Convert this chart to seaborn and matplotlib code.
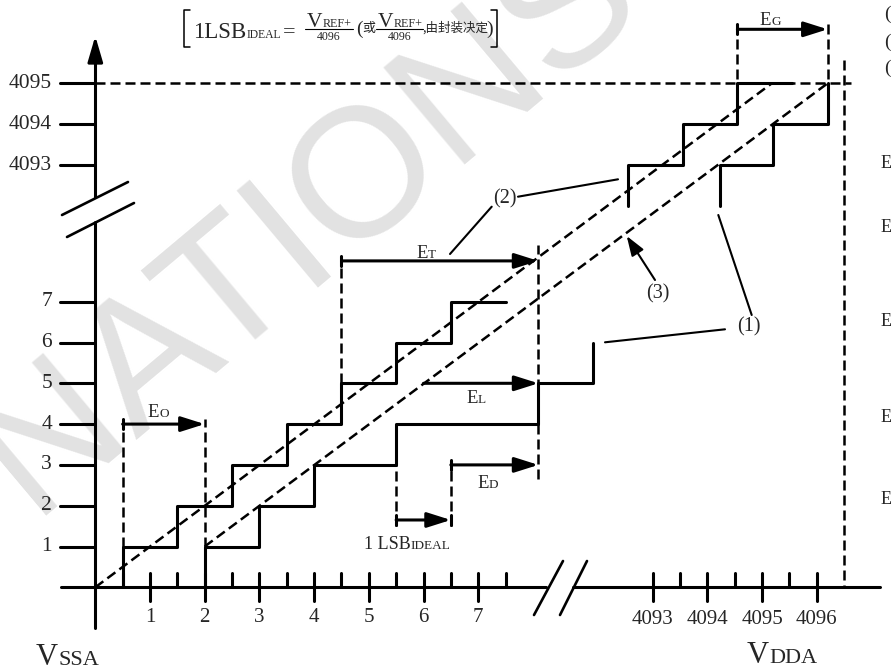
import matplotlib
matplotlib.use('Agg')
import matplotlib.pyplot as plt
import numpy as np
import pandas as pd
import seaborn as sns

# values (LSB units on x, output codes on y)
LO_IDEAL_EDGES = [0.5, 1.5, 2.5, 3.5, 4.5, 5.5, 6.5]
LO_IDEAL_CODES = [1, 2, 3, 4, 5, 6, 7]
LO_IDEAL_END = 7.5

LO_ACTUAL_EDGES = [2.0, 3.0, 4.0, 5.5, 8.1, 9.1]
LO_ACTUAL_CODES = [1, 2, 3, 4, 5, 6]

HI_IDEAL_EDGES = [4092.55, 4093.55, 4094.55]
HI_IDEAL_CODES = [4093, 4094, 4095]
HI_IDEAL_END = 4095.55

HI_ACTUAL_EDGES = [4094.23, 4095.2, 4096.2]
HI_ACTUAL_CODES = [4093, 4094, 4095]

LO_Y_TICKS = [1, 2, 3, 4, 5, 6, 7]
HI_Y_TICKS = [4093, 4094, 4095]
LO_X_TICKS = [1, 2, 3, 4, 5, 6, 7]
HI_X_TICKS = [4093, 4094, 4095, 4096]

# canvas placement of the two axis segments (pixels)
LO_X0, LO_DX = 95.3, 54.7
LO_Y0, LO_DY = 587.3, 40.8
HI_X0, HI_Y0, HI_DY = 762.0, 83.3, 41.0

LW = 2.2      # solid lines
DLW = 1.8     # dashed lines
THIN = 1.5
DASH = (0, (7.2, 3.6))
SERIF = ['Liberation Serif', 'Noto Sans CJK SC']
CJK = ['Noto Sans CJK SC', 'Liberation Serif']


def lx(u):
    return LO_X0 + LO_DX * np.asarray(u, dtype=float)


def ly(v):
    return LO_Y0 - LO_DY * np.asarray(v, dtype=float)


def hx(u):
    return HI_X0 + LO_DX * (np.asarray(u, dtype=float) - 4095)


def hy(v):
    return HI_Y0 + HI_DY * (4095 - np.asarray(v, dtype=float))


def staircase(ax, edges, codes, end, fx, fy):
    xs = [edges[0]] + list(edges)
    ys = [codes[0] - 1] + list(codes)
    if end is not None:
        xs.append(end)
        ys.append(codes[-1])
    df = pd.DataFrame({'x': fx(xs), 'y': fy(ys)})
    sns.lineplot(data=df, x='x', y='y', drawstyle='steps-post', estimator=None,
                 sort=False, color='black', linewidth=LW, ax=ax)


def dashed(ax, xs, ys, lw=DLW):
    ax.plot(xs, ys, color='black', lw=lw, linestyle=DASH, solid_capstyle='butt')


def arrow(ax, x0, x1, y, tail=True, head=False):
    ax.annotate('', xy=(x1, y), xytext=(x0, y),
                arrowprops=dict(arrowstyle='-|>,head_length=1.2,head_width=0.38',
                                color='black', lw=LW, shrinkA=0, shrinkB=0))
    if tail:
        ax.plot([x0, x0], [y - 5, y + 5], color='black', lw=LW)
    if head:
        ax.plot([x1, x1], [y - 5, y + 5], color='black', lw=LW)


def rich(ax, x, y, parts, ha='center'):
    r = ax.figure.canvas.get_renderer()
    arts = []
    for s, size in parts:
        t = ax.text(0, y, s, fontsize=size, family=SERIF, ha='left', va='baseline')
        arts.append((t, t.get_window_extent(r).width))
    total = sum(w for _, w in arts)
    cur = x - total / 2 if ha == 'center' else x
    for t, w in arts:
        t.set_x(cur)
        cur += w


sns.set_theme(style='white')
plt.rcParams['font.family'] = SERIF
plt.rcParams['lines.scale_dashes'] = False

fig = plt.figure(figsize=(8.93, 6.71), dpi=100)
ax = fig.add_axes([0, 0, 1, 1])
ax.set_xlim(0, 893)
ax.set_ylim(671, 0)
ax.axis('off')

# watermark
ax.text(308, 222, 'NATIONS', rotation=40, fontsize=132, color='#e2e2e2',
        family='Liberation Sans', ha='center', va='center', zorder=0,
        rotation_mode='anchor')

# y axis with break
ax.plot([LO_X0, LO_X0], [628, 222], color='black', lw=LW)
ax.plot([LO_X0, LO_X0], [197, 50], color='black', lw=LW)
ax.annotate('', xy=(LO_X0, 36), xytext=(LO_X0, 60),
            arrowprops=dict(arrowstyle='-|>,head_length=1.3,head_width=0.38',
                            color='black', lw=LW, shrinkA=0, shrinkB=0))
ax.plot([62, 128], [215, 182], color='black', lw=1.9)
ax.plot([67, 134], [237, 203], color='black', lw=1.9)

# x axis with break
ax.plot([61, 546], [LO_Y0, LO_Y0], color='black', lw=LW)
ax.plot([573, 880], [LO_Y0, LO_Y0], color='black', lw=LW)
ax.annotate('', xy=(898, LO_Y0), xytext=(870, LO_Y0),
            arrowprops=dict(arrowstyle='-|>,head_length=1.3,head_width=0.38',
                            color='black', lw=LW, shrinkA=0, shrinkB=0))
ax.plot([534, 563], [615, 561], color='black', lw=1.9)
ax.plot([560, 587], [615, 561], color='black', lw=1.9)

# y ticks and labels
for v in LO_Y_TICKS:
    ax.plot([60, LO_X0], [ly(v), ly(v)], color='black', lw=LW)
    ax.text(52, ly(v), str(v), fontsize=15.5, ha='right', va='center')
for v in HI_Y_TICKS:
    ax.plot([60, LO_X0], [hy(v), hy(v)], color='black', lw=LW)
    ax.text(52, hy(v), str(v), fontsize=15.5, ha='right', va='center')

# x ticks and labels
for u in LO_X_TICKS:
    ax.plot([lx(u), lx(u)], [573, 601], color='black', lw=LW)
    ax.text(lx(u), 617, str(u), fontsize=15, ha='center', va='center')
for u in np.array(LO_X_TICKS) - 0.5:
    ax.plot([lx(u), lx(u)], [573, LO_Y0], color='black', lw=LW)
ax.plot([lx(7.5), lx(7.5)], [573, LO_Y0], color='black', lw=LW)
for u in HI_X_TICKS:
    ax.plot([hx(u), hx(u)], [573, 601], color='black', lw=LW)
    ax.text(hx(u), 619, str(u), fontsize=15, ha='center', va='center')
for u in np.array(HI_X_TICKS[1:]) - 0.5:
    ax.plot([hx(u), hx(u)], [573, LO_Y0], color='black', lw=LW)

# staircases
staircase(ax, LO_IDEAL_EDGES, LO_IDEAL_CODES, LO_IDEAL_END, lx, ly)
staircase(ax, LO_ACTUAL_EDGES, LO_ACTUAL_CODES, None, lx, ly)
staircase(ax, HI_IDEAL_EDGES, HI_IDEAL_CODES, HI_IDEAL_END, hx, hy)
staircase(ax, HI_ACTUAL_EDGES, HI_ACTUAL_CODES, None, hx, hy)

# ideal line (2) and end point correlation line (3)
dashed(ax, [lx(0), hx(4095.18)], [ly(0), hy(4095)])
dashed(ax, [lx(LO_ACTUAL_EDGES[0]), hx(HI_ACTUAL_EDGES[-1])],
       [ly(LO_ACTUAL_CODES[0]), hy(HI_ACTUAL_CODES[-1])])

# guides
dashed(ax, [LO_X0, hx(4096.63)], [hy(4095), hy(4095)])
dashed(ax, [hx(4096.5), hx(4096.5)], [60, LO_Y0])
dashed(ax, [lx(0.5), lx(0.5)], [ly(1), ly(4.12)])
dashed(ax, [lx(2.0), lx(2.0)], [ly(1), ly(4.12)])
dashed(ax, [lx(4.5), lx(4.5)], [ly(5), ly(8.12)])
dashed(ax, [lx(8.1), lx(8.1)], [ly(2.65), ly(8.38)])
dashed(ax, [lx(5.5), lx(5.5)], [ly(1.5), ly(3)])
dashed(ax, [lx(6.5), lx(6.5)], [ly(1.5), ly(3.05)])
dashed(ax, [hx(4094.55), hx(4094.55)], [24, hy(4095)])
dashed(ax, [hx(4096.2), hx(4096.2)], [24, hy(4095)])

# error arrows
arrow(ax, lx(0.5), lx(2.0), ly(4))
arrow(ax, lx(4.5), lx(8.1), ly(8.0))
arrow(ax, lx(6.0), lx(8.1), ly(5), tail=False)
arrow(ax, lx(6.5), lx(8.1), ly(3))
arrow(ax, lx(5.5), lx(6.5), ly(1.65), head=True)
arrow(ax, hx(4094.55), hx(4096.2), 29.3)

rich(ax, 158, 417, [('E', 13.5), ('O', 9.5)])
rich(ax, 426, 258, [('E', 13.5), ('T', 9.5)])
rich(ax, 476, 403, [('E', 13.5), ('L', 9.5)])
rich(ax, 488, 488, [('E', 13.5), ('D', 9.5)])
rich(ax, 770, 25, [('E', 13.5), ('G', 9.5)])
rich(ax, 407, 549, [('1 LSB', 13), ('IDEAL', 9.5)])

# curve labels and leaders
for (x0, y0), (x1, y1) in [((518, 196.7), (618, 179.3)), ((491.7, 206.7), (450, 254)),
                           ((751.7, 315), (718.3, 215)), ((725, 329.3), (605, 342.3))]:
    ax.plot([x0, x1], [y0, y1], color='black', lw=THIN)
ax.annotate('', xy=(626.7, 236), xytext=(655, 280),
            arrowprops=dict(arrowstyle='-|>,head_length=1.0,head_width=0.35',
                            color='black', lw=THIN, shrinkA=0, shrinkB=0))
ax.text(505, 199, '(2)', fontsize=14.5, ha='center', va='center')
ax.text(658, 294, '(3)', fontsize=14.5, ha='center', va='center')
ax.text(749, 327, '(1)', fontsize=14.5, ha='center', va='center')

# supply labels
rich(ax, 36, 665, [('V', 22), ('SSA', 16)], ha='left')
rich(ax, 747, 663, [('V', 22), ('DDA', 16)], ha='left')

# formula at the top
ax.plot([190, 184, 184, 190], [10, 10, 47, 47], color='black', lw=1.1)
ax.plot([491, 497, 497, 491], [10, 10, 47, 47], color='black', lw=1.1)
rich(ax, 193, 37.5, [('1LSB', 16.5), ('IDEAL', 8.4)], ha='left')
ax.text(283, 37, '=', fontsize=16, ha='left', va='baseline')
for cx, x0, x1 in [(329, 305, 353), (400, 376, 423)]:
    rich(ax, cx, 27, [('V', 15.5), ('REF+', 8.7)])
    ax.plot([x0, x1], [29.3, 29.3], color='black', lw=0.8)
    ax.text(cx, 40, '4096', fontsize=8.6, ha='center', va='baseline')
ax.text(356, 33.5, '(', fontsize=14, ha='left', va='baseline')
ax.text(362.5, 32, '或', fontsize=9.4, family=CJK, ha='left', va='baseline')
ax.text(422, 32, ',由封装决定', fontsize=9, family=CJK, ha='left', va='baseline')
ax.text(486.5, 33.5, ')', fontsize=14, ha='left', va='baseline')

# text cut off at the right edge
for y in [14, 42, 68]:
    ax.text(884, y, '(', fontsize=14, ha='left', va='center')
for y in [164, 227, 321, 417, 500]:
    ax.text(881, y, 'E', fontsize=13, ha='left', va='center')

fig.savefig('out.png', dpi=100)
